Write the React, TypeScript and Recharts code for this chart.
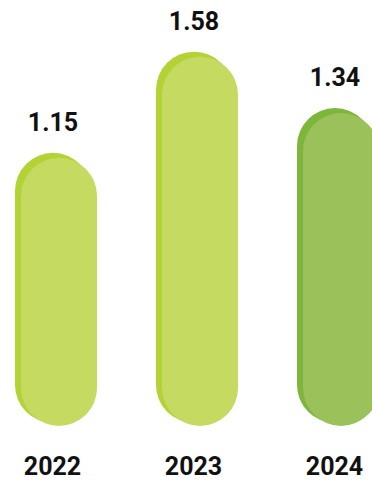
import React from "react";
import { BarChart, Bar, XAxis, YAxis, LabelList } from "recharts";

const years = ["2022", "2023", "2024"];
const values = [1.15, 1.58, 1.34];
const mainColors = ["#C4DA60", "#C4DA60", "#9AC15A"];
const shadowColors = ["#B3D236", "#B3D236", "#7DB63A"];

const data = years.map((year, i) => ({ year, value: values[i] }));

const FONT = "Roboto, 'DejaVu Sans', sans-serif";

const PillShape = (props: any) => {
  const { x, y, width, height, index } = props;
  const r = width / 2;
  return (
    <g>
      <rect x={x} y={y} width={width} height={height} rx={r} ry={r} fill={shadowColors[index]} />
      <rect x={x + 6} y={y + 5} width={width} height={height - 2} rx={r} ry={r} fill={mainColors[index]} />
    </g>
  );
};

const Tick = (props: any) => {
  const { x, payload } = props;
  return (
    <text
      x={x}
      y={475}
      textAnchor="middle"
      fontSize={25}
      fontWeight={700}
      fontFamily={FONT}
      fill="#111"
    >
      {payload.value}
    </text>
  );
};

export default function App() {
  return (
    <div style={{ position: "absolute", left: 0, top: 0, width: 372, height: 481, overflow: "hidden", background: "#fff" }}>
      <div style={{ marginLeft: -18 }}>
        <BarChart
          width={423}
          height={481}
          data={data}
          margin={{ top: 0, right: 0, bottom: 0, left: 0 }}
        >
          <XAxis
            dataKey="year"
            axisLine={false}
            tickLine={false}
            height={58}
            tick={<Tick />}
            interval={0}
          />
          <YAxis hide domain={[0, 1.8]} />
          <Bar dataKey="value" barSize={76} shape={<PillShape />} isAnimationActive={false}>
            <LabelList
              dataKey="value"
              position="top"
              offset={22}
              fill="#111"
              fontSize={25}
              fontWeight={700}
              fontFamily={FONT}
            />
          </Bar>
        </BarChart>
      </div>
    </div>
  );
}
